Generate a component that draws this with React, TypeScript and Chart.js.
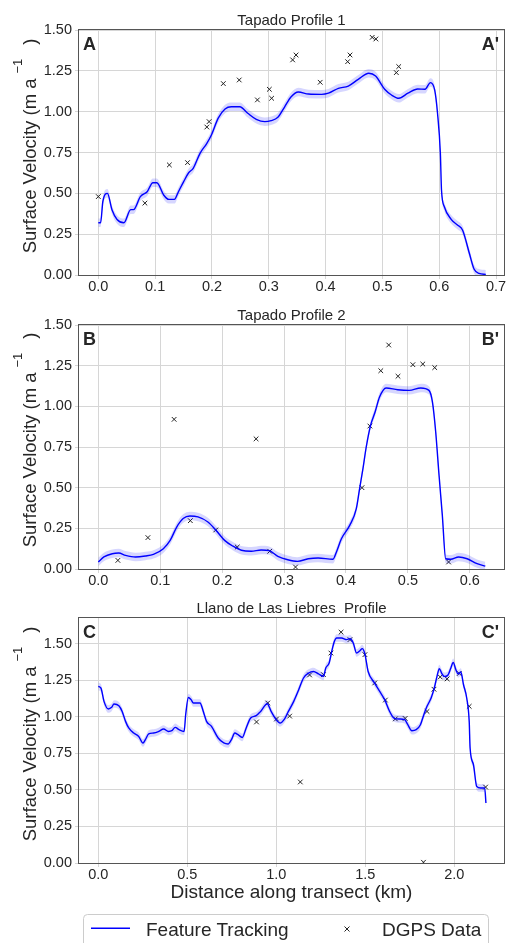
import React, { useEffect, useRef } from "react";
import { Chart, registerables } from "chart.js";

Chart.register(...registerables);

const FONT = '"Liberation Sans", Arial, Helvetica, sans-serif';
const TEXT = "#262626";
const GRID = "#d6d6d6";
const FRAME = "#555555";
const LINE_BLUE = "#0000ff";
const BAND_FILL = "rgba(0, 0, 255, 0.16)";
const TICK_FONT_SIZE = 14.5;

// Half-width of the shaded uncertainty envelope around the tracked velocity (m/a)
const BAND_HALF_WIDTH = 0.026;

// ---------- Tapado Profile 1 ----------
const P1_DIST = [
  0.0, 0.004, 0.008, 0.016, 0.024, 0.033, 0.045, 0.057, 0.062, 0.074, 0.086, 0.096,
  0.103, 0.115, 0.124, 0.134, 0.141, 0.15, 0.159, 0.167, 0.179, 0.191, 0.199, 0.211,
  0.223, 0.234, 0.249, 0.263, 0.278, 0.293, 0.304, 0.316, 0.328, 0.339, 0.352, 0.37,
  0.393, 0.405, 0.4225, 0.44, 0.4575, 0.476, 0.488, 0.504, 0.516, 0.529, 0.545, 0.562,
  0.575, 0.5845, 0.592, 0.597, 0.602, 0.604, 0.609, 0.621, 0.632, 0.641, 0.653, 0.6615,
  0.67, 0.682,
];
const P1_VEL = [
  0.32, 0.32, 0.45, 0.5, 0.4, 0.34, 0.32, 0.4, 0.4, 0.48, 0.51, 0.565,
  0.565, 0.49, 0.463, 0.463, 0.51, 0.57, 0.626, 0.653, 0.745, 0.806, 0.857, 0.96,
  1.016, 1.03, 1.03, 0.99, 0.953, 0.939, 0.945, 0.966, 1.03, 1.09, 1.12, 1.108,
  1.106, 1.113, 1.143, 1.157, 1.198, 1.235, 1.218, 1.137, 1.102, 1.082, 1.113, 1.139,
  1.137, 1.178, 1.133, 0.99, 0.745, 0.52, 0.418, 0.341, 0.306, 0.276, 0.133, 0.035,
  0.01, 0.004,
];
const P1_GPS_DIST = [
  0.0, 0.082, 0.125, 0.157, 0.191, 0.195, 0.22, 0.248, 0.28, 0.301, 0.305, 0.342,
  0.348, 0.3905, 0.4388, 0.443, 0.482, 0.4885, 0.5245, 0.5287,
];
const P1_GPS_VEL = [
  0.48, 0.44, 0.674, 0.688, 0.906, 0.939, 1.172, 1.194, 1.072, 1.137, 1.082, 1.317,
  1.347, 1.18, 1.306, 1.347, 1.455, 1.445, 1.239, 1.276,
];
const P1_X_TICKS = [0, 0.1, 0.2, 0.3, 0.4, 0.5, 0.6, 0.7];

// ---------- Tapado Profile 2 ----------
const P2_DIST = [
  0.0, 0.009, 0.0225, 0.033, 0.044, 0.06, 0.076, 0.089, 0.105, 0.116, 0.1266, 0.137,
  0.148, 0.161, 0.177, 0.19, 0.204, 0.2175, 0.231, 0.247, 0.263, 0.276, 0.29, 0.306,
  0.3216, 0.339, 0.355, 0.379, 0.3846, 0.3926, 0.406, 0.4167, 0.422, 0.4274, 0.4327, 0.4397,
  0.447, 0.4542, 0.4647, 0.4835, 0.502, 0.5208, 0.534, 0.5396, 0.5449, 0.5503, 0.5556, 0.561,
  0.569, 0.582, 0.5957, 0.6117, 0.625,
];
const P2_VEL = [
  0.043, 0.074, 0.094, 0.098, 0.084, 0.074, 0.08, 0.09, 0.125, 0.176, 0.258, 0.31,
  0.326, 0.32, 0.289, 0.238, 0.176, 0.14, 0.115, 0.109, 0.117, 0.113, 0.078, 0.057,
  0.047, 0.063, 0.068, 0.06, 0.105, 0.186, 0.268, 0.371, 0.494, 0.617, 0.75, 0.883,
  0.965, 1.057, 1.113, 1.102, 1.098, 1.113, 1.098, 1.027, 0.842, 0.576, 0.33, 0.063,
  0.06, 0.074, 0.063, 0.033, 0.018,
];
const P2_GPS_DIST = [
  0.0316, 0.0801, 0.1224, 0.1486, 0.1897, 0.2244, 0.2548, 0.2768, 0.3185, 0.4258, 0.4386, 0.4562,
  0.469, 0.484, 0.508, 0.524, 0.5433, 0.5657,
];
const P2_GPS_VEL = [
  0.053, 0.193, 0.92, 0.297, 0.24, 0.135, 0.8, 0.109, 0.012, 0.5, 0.879, 1.219,
  1.377, 1.185, 1.256, 1.26, 1.238, 0.043,
];
const P2_X_TICKS = [0, 0.1, 0.2, 0.3, 0.4, 0.5, 0.6];

// ---------- Llano de Las Liebres Profile ----------
const P3_DIST = [
  0.0, 0.015, 0.032, 0.056, 0.075, 0.088, 0.1155, 0.134, 0.153, 0.171, 0.199, 0.227,
  0.251, 0.2645, 0.283, 0.311, 0.339, 0.367, 0.3945, 0.413, 0.432, 0.454, 0.482, 0.491,
  0.506, 0.521, 0.534, 0.5714, 0.59, 0.608, 0.636, 0.6735, 0.705, 0.729, 0.748, 0.767,
  0.785, 0.809, 0.831, 0.856, 0.887, 0.912, 0.949, 0.971, 0.999, 1.021, 1.046, 1.068,
  1.098, 1.126, 1.153, 1.181, 1.209, 1.237, 1.265, 1.278, 1.297, 1.3115, 1.3265, 1.339,
  1.367, 1.395, 1.414, 1.4325, 1.451, 1.47, 1.483, 1.498, 1.516, 1.55, 1.581, 1.609,
  1.637, 1.661, 1.693, 1.721, 1.739, 1.762, 1.786, 1.81, 1.829, 1.847, 1.87, 1.888,
  1.903, 1.916, 1.929, 1.944, 1.963, 1.981, 1.994, 2.009, 2.022, 2.037, 2.052, 2.07,
  2.084, 2.089, 2.108, 2.126, 2.148, 2.171, 2.178,
];
const P3_VEL = [
  1.21, 1.198, 1.107, 1.055, 1.066, 1.089, 1.077, 1.038, 0.97, 0.925, 0.89, 0.867,
  0.822, 0.845, 0.884, 0.89, 0.901, 0.918, 0.901, 0.906, 0.929, 0.913, 0.901, 1.016,
  1.134, 1.119, 1.096, 1.096, 1.038, 0.97, 0.936, 0.856, 0.822, 0.815, 0.845, 0.89,
  0.879, 0.86, 0.925, 0.993, 1.009, 1.038, 1.091, 1.038, 0.982, 0.959, 0.986, 1.038,
  1.107, 1.187, 1.267, 1.301, 1.312, 1.295, 1.278, 1.336, 1.37, 1.449, 1.518, 1.541,
  1.541, 1.53, 1.536, 1.507, 1.438, 1.454, 1.468, 1.431, 1.312, 1.237, 1.175, 1.119,
  1.038, 0.993, 0.986, 0.982, 0.947, 0.906, 0.913, 0.947, 1.016, 1.073, 1.13, 1.199,
  1.278, 1.331, 1.301, 1.278, 1.285, 1.336, 1.374, 1.324, 1.295, 1.308, 1.221, 1.13,
  0.97, 0.788, 0.673, 0.525, 0.514, 0.514, 0.411,
];
const P3_GPS_DIST = [
  0.889, 0.952, 1.001, 1.075, 1.135, 1.187, 1.265, 1.307, 1.364, 1.414, 1.498, 1.553,
  1.613, 1.669, 1.724, 1.827, 1.847, 1.886, 1.921, 1.96, 2.028, 2.084, 2.176,
];
const P3_GPS_VEL = [
  0.966, 1.096, 0.986, 1.006, 0.555, 1.288, 1.29, 1.438, 1.581, 1.53, 1.427, 1.233,
  1.116, 0.987, 0.99, 0.005, 1.038, 1.19, 1.274, 1.261, 1.298, 1.073, 0.52,
];
const P3_X_TICKS = [0, 0.5, 1.0, 1.5, 2.0];

const Y_TICKS = [0, 0.25, 0.5, 0.75, 1.0, 1.25, 1.5];

type Panel = {
  title: string;
  startLabel: string;
  endLabel: string;
  dist: number[];
  vel: number[];
  gpsDist: number[];
  gpsVel: number[];
  xTicks: number[];
  xDigits: number;
  xMin: number;
  xMax: number;
  yMax: number;
  xLabel?: string;
  // layout (px)
  top: number;
  height: number;
  areaTop: number;
  areaBottom: number;
};

const PANELS: Panel[] = [
  {
    title: "Tapado Profile 1",
    startLabel: "A",
    endLabel: "A'",
    dist: P1_DIST,
    vel: P1_VEL,
    gpsDist: P1_GPS_DIST,
    gpsVel: P1_GPS_VEL,
    xTicks: P1_X_TICKS,
    xDigits: 1,
    xMin: -0.034,
    xMax: 0.714,
    yMax: 1.5,
    top: 0,
    height: 295,
    areaTop: 30,
    areaBottom: 275,
  },
  {
    title: "Tapado Profile 2",
    startLabel: "B",
    endLabel: "B'",
    dist: P2_DIST,
    vel: P2_VEL,
    gpsDist: P2_GPS_DIST,
    gpsVel: P2_GPS_VEL,
    xTicks: P2_X_TICKS,
    xDigits: 1,
    xMin: -0.0312,
    xMax: 0.6552,
    yMax: 1.5,
    top: 295,
    height: 295,
    areaTop: 30,
    areaBottom: 274,
  },
  {
    title: "Llano de Las Liebres  Profile",
    startLabel: "C",
    endLabel: "C'",
    dist: P3_DIST,
    vel: P3_VEL,
    gpsDist: P3_GPS_DIST,
    gpsVel: P3_GPS_VEL,
    xTicks: P3_X_TICKS,
    xDigits: 1,
    xMin: -0.1085,
    xMax: 2.2795,
    yMax: 1.678,
    xLabel: "Distance along transect (km)",
    top: 590,
    height: 320,
    areaTop: 28,
    areaBottom: 273,
  },
];

const WIDTH = 509;
const AXIS_LEFT = 79;
const AREA_RIGHT = 507;

// Draws frame, x tick labels, panel title, section letters and axis titles
const panelDecor = {
  id: "panelDecor",
  afterDatasetsDraw(chart: any, _args: any, opts: any) {
    const { ctx, chartArea: a } = chart;
    ctx.save();

    // frame around the plotting area
    ctx.strokeStyle = FRAME;
    ctx.lineWidth = 1;
    ctx.strokeRect(
      Math.round(a.left) - 0.5,
      Math.round(a.top) - 0.5,
      Math.round(a.right - a.left) + 1,
      Math.round(a.bottom - a.top) + 1
    );

    // x tick labels (the outermost one may run off the canvas edge)
    const xScale = chart.scales.x;
    ctx.fillStyle = TEXT;
    ctx.font = `${TICK_FONT_SIZE}px ${FONT}`;
    ctx.textAlign = "center";
    ctx.textBaseline = "top";
    for (const v of opts.xTicks as number[]) {
      ctx.fillText(v.toFixed(opts.xDigits), xScale.getPixelForValue(v), a.bottom + 5);
    }

    ctx.textBaseline = "alphabetic";

    // title
    ctx.font = `15px ${FONT}`;
    ctx.textAlign = "center";
    ctx.fillText(opts.title, (a.left + a.right) / 2, a.top - 5);

    // section letters
    ctx.font = `bold 18px ${FONT}`;
    ctx.textAlign = "left";
    ctx.fillText(opts.startLabel, a.left + 4, a.top + 20);
    ctx.textAlign = "right";
    ctx.fillText(opts.endLabel, a.right - 5, a.top + 20);

    // y-axis title with superscript
    ctx.save();
    ctx.translate(36, a.bottom - 21.7);
    ctx.rotate(-Math.PI / 2);
    ctx.textAlign = "left";
    ctx.font = `18.5px ${FONT}`;
    const main = "Surface Velocity (m a";
    ctx.fillText(main, 0, 0);
    const w = ctx.measureText(main).width;
    ctx.font = `13px ${FONT}`;
    const sup = "\u22121";
    ctx.fillText(sup, w + 5, -14);
    const sw = ctx.measureText(sup).width;
    ctx.font = `18.5px ${FONT}`;
    ctx.fillText(")", w + 5 + sw + 14, 0);
    ctx.restore();

    // x-axis title
    if (opts.xLabel) {
      ctx.font = `19px ${FONT}`;
      ctx.textAlign = "center";
      ctx.fillText(opts.xLabel, (a.left + a.right) / 2, a.bottom + 34.5);
    }
    ctx.restore();
  },
};

function ProfileChart({ panel }: { panel: Panel }) {
  const ref = useRef<HTMLCanvasElement | null>(null);

  useEffect(() => {
    if (!ref.current) return;
    const line = panel.dist.map((d, i) => ({ x: d, y: panel.vel[i] }));
    const upper = panel.dist.map((d, i) => ({ x: d, y: panel.vel[i] + BAND_HALF_WIDTH }));
    const lower = panel.dist.map((d, i) => ({ x: d, y: panel.vel[i] - BAND_HALF_WIDTH }));
    const gps = panel.gpsDist.map((d, i) => ({ x: d, y: panel.gpsVel[i] }));
    const xAxisHeight = panel.height - panel.areaBottom;
    const tickFont = { family: FONT, size: TICK_FONT_SIZE };

    const chart = new Chart(ref.current, {
      type: "scatter",
      data: {
        datasets: [
          {
            label: "envelope upper",
            data: upper,
            showLine: true,
            borderWidth: 0,
            borderColor: "rgba(0,0,0,0)",
            pointRadius: 0,
            backgroundColor: BAND_FILL,
            fill: "+1",
            cubicInterpolationMode: "monotone",
          },
          {
            label: "envelope lower",
            data: lower,
            showLine: true,
            borderWidth: 0,
            borderColor: "rgba(0,0,0,0)",
            pointRadius: 0,
            fill: false,
            cubicInterpolationMode: "monotone",
          },
          {
            label: "Feature Tracking",
            data: line,
            showLine: true,
            borderColor: LINE_BLUE,
            borderWidth: 1.4,
            pointRadius: 0,
            fill: false,
            cubicInterpolationMode: "monotone",
          },
          {
            label: "DGPS Data",
            data: gps,
            showLine: false,
            pointStyle: "crossRot",
            pointRadius: 3.3,
            borderColor: "#222222",
            borderWidth: 1,
          },
        ],
      } as any,
      options: {
        animation: false,
        responsive: false,
        maintainAspectRatio: false,
        events: [],
        layout: { padding: { top: panel.areaTop, left: 0, right: WIDTH - AREA_RIGHT, bottom: 0 } },
        plugins: {
          legend: { display: false },
          tooltip: { enabled: false },
          panelDecor: {
            title: panel.title,
            startLabel: panel.startLabel,
            endLabel: panel.endLabel,
            xLabel: panel.xLabel,
            xTicks: panel.xTicks,
            xDigits: panel.xDigits,
          },
        } as any,
        scales: {
          x: {
            type: "linear",
            min: panel.xMin,
            max: panel.xMax,
            afterBuildTicks: (s: any) => {
              s.ticks = panel.xTicks.map((v) => ({ value: v }));
            },
            afterFit: (s: any) => {
              s.height = xAxisHeight;
              s.paddingLeft = 0;
              s.paddingRight = 0;
            },
            ticks: { display: false, autoSkip: false, maxRotation: 0 },
            grid: { color: GRID, lineWidth: 1, tickLength: 4, tickColor: GRID },
            border: { display: false },
          },
          y: {
            type: "linear",
            min: 0,
            max: panel.yMax,
            afterBuildTicks: (s: any) => {
              s.ticks = Y_TICKS.map((v) => ({ value: v }));
            },
            afterFit: (s: any) => {
              s.width = AXIS_LEFT;
              s.paddingTop = 0;
              s.paddingBottom = 0;
            },
            ticks: {
              autoSkip: false,
              padding: 3,
              color: TEXT,
              font: tickFont,
              callback: (v: any) => Number(v).toFixed(2),
            },
            grid: { color: GRID, lineWidth: 1, tickLength: 4, tickColor: GRID },
            border: { display: false },
          },
        },
      } as any,
      plugins: [panelDecor],
    });
    return () => chart.destroy();
  }, [panel]);

  return (
    <canvas
      ref={ref}
      width={WIDTH}
      height={panel.height}
      style={{ position: "absolute", left: 0, top: panel.top, width: WIDTH, height: panel.height, display: "block" }}
    />
  );
}

function Legend() {
  return (
    <svg width={WIDTH} height={43} style={{ position: "absolute", left: 0, top: 900 }} fontFamily={FONT}>
      <rect x={83.5} y={14.5} width={405} height={40} rx={4} ry={4} fill="#ffffff" stroke="#cccccc" strokeWidth={1} />
      <line x1={91} y1={28.3} x2={130} y2={28.3} stroke={LINE_BLUE} strokeWidth={1.5} />
      <text x={146} y={35.7} fontSize={19} fill={TEXT}>
        Feature Tracking
      </text>
      <path d="M344.5 26.5 L349.5 31.5 M349.5 26.5 L344.5 31.5" stroke="#222222" strokeWidth={1} />
      <text x={382} y={35.7} fontSize={19} fill={TEXT}>
        DGPS Data
      </text>
    </svg>
  );
}

export default function App() {
  return (
    <div
      style={{
        position: "absolute",
        left: 0,
        top: 0,
        width: WIDTH,
        height: 943,
        overflow: "hidden",
        background: "#ffffff",
      }}
    >
      {PANELS.map((p) => (
        <ProfileChart key={p.title} panel={p} />
      ))}
      <Legend />
    </div>
  );
}
